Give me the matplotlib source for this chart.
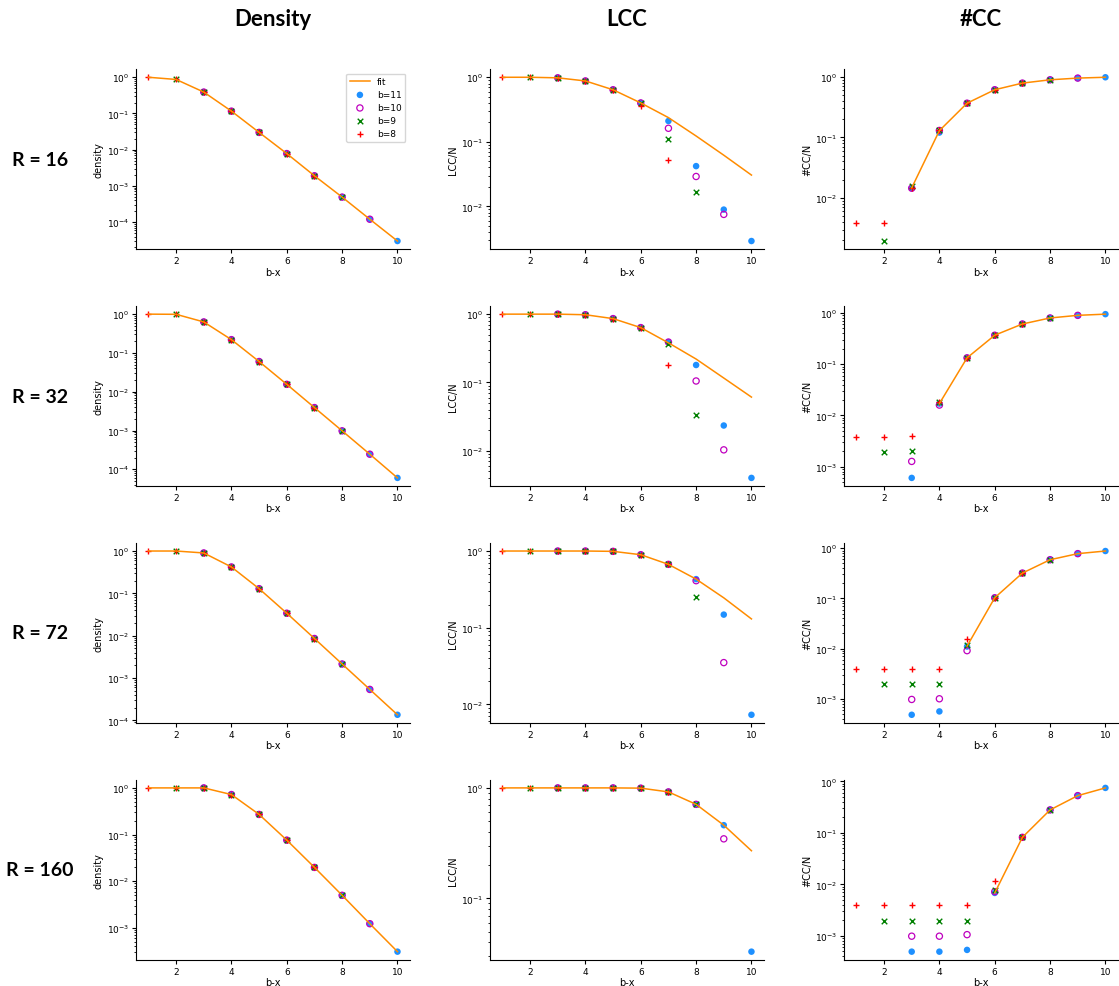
import numpy as np
import matplotlib
matplotlib.use("Agg")
import matplotlib.pyplot as plt

# ---------------- data ----------------
x_all = [1, 2, 3, 4, 5, 6, 7, 8, 9, 10]
R_values = [16, 32, 72, 160]
b_values = [11, 10, 9, 8]
# x-range covered by each b series
x_b11 = [3, 4, 5, 6, 7, 8, 9, 10]
x_b10 = [3, 4, 5, 6, 7, 8, 9]
x_b9 = [2, 3, 4, 5, 6, 7, 8]
x_b8 = [1, 2, 3, 4, 5, 6, 7]

# density (x = 1..10); all series lie on these values
density_R16 = [1.0, 0.87, 0.39, 0.116, 0.030, 0.0078, 0.0019, 0.00049, 0.00012, 3.0e-5]
density_R32 = [1.0, 0.99, 0.63, 0.22, 0.060, 0.0155, 0.0039, 0.00098, 0.000245, 6.0e-5]
density_R72 = [1.0, 1.0, 0.90, 0.42, 0.129, 0.034, 0.0086, 0.00215, 0.00054, 0.000136]
density_R160 = [1.0, 1.0, 1.0, 0.72, 0.27, 0.076, 0.0198, 0.0050, 0.00123, 0.00031]

# LCC/N fits (x = 1..10)
lcc_fit_R16 = [1.0, 1.0, 0.98, 0.877, 0.64, 0.40, 0.237, 0.123, 0.062, 0.0305]
lcc_fit_R32 = [1.0, 1.0, 1.0, 0.98, 0.86, 0.635, 0.38, 0.22, 0.116, 0.061]
lcc_fit_R72 = [1.0, 1.0, 1.0, 1.0, 0.99, 0.895, 0.67, 0.43, 0.245, 0.13]
lcc_fit_R160 = [1.0, 1.0, 1.0, 1.0, 1.0, 0.995, 0.92, 0.71, 0.46, 0.27]

# LCC/N measured
lcc_R16_b11 = [0.98, 0.877, 0.64, 0.40, 0.21, 0.042, 0.0089, 0.0029]
lcc_R16_b10 = [0.98, 0.877, 0.64, 0.40, 0.162, 0.029, 0.0075]
lcc_R16_b9 = [1.0, 0.98, 0.877, 0.64, 0.40, 0.111, 0.0168]
lcc_R16_b8 = [1.0, 1.0, 0.98, 0.877, 0.64, 0.36, 0.053]

lcc_R32_b11 = [1.0, 0.98, 0.86, 0.635, 0.39, 0.18, 0.0234, 0.0040]
lcc_R32_b10 = [1.0, 0.98, 0.86, 0.635, 0.39, 0.105, 0.0103]
lcc_R32_b9 = [1.0, 1.0, 0.98, 0.86, 0.635, 0.36, 0.0336]
lcc_R32_b8 = [1.0, 1.0, 1.0, 0.98, 0.86, 0.635, 0.182]

lcc_R72_b11 = [1.0, 1.0, 0.99, 0.895, 0.67, 0.43, 0.148, 0.0073]
lcc_R72_b10 = [1.0, 1.0, 0.99, 0.895, 0.67, 0.41, 0.035]
lcc_R72_b9 = [1.0, 1.0, 1.0, 0.99, 0.895, 0.67, 0.248]
lcc_R72_b8 = [1.0, 1.0, 1.0, 1.0, 0.99, 0.895, 0.67]

lcc_R160_b11 = [1.0, 1.0, 1.0, 0.995, 0.92, 0.71, 0.46, 0.033]
lcc_R160_b10 = [1.0, 1.0, 1.0, 0.995, 0.92, 0.71, 0.346]
lcc_R160_b9 = [1.0, 1.0, 1.0, 1.0, 0.995, 0.92, 0.71]
lcc_R160_b8 = [1.0, 1.0, 1.0, 1.0, 1.0, 0.995, 0.92]

# #CC/N fits (x = 1..10, nan where not drawn)
nan = float("nan")
cc_fit_R16 = [nan, nan, 0.0147, 0.129, 0.366, 0.61, 0.785, 0.89, 0.95, 0.98]
cc_fit_R32 = [nan, nan, nan, 0.017, 0.133, 0.368, 0.61, 0.80, 0.90, 0.95]
cc_fit_R72 = [nan, nan, nan, nan, 0.0112, 0.103, 0.32, 0.59, 0.78, 0.88]
cc_fit_R160 = [nan, nan, nan, nan, nan, 0.0068, 0.082, 0.28, 0.53, 0.75]

# #CC/N measured
cc_R16_b11 = [0.0145, 0.12, 0.366, 0.61, 0.785, 0.89, 0.95, 0.98]
cc_R16_b10 = [0.0145, 0.13, 0.366, 0.61, 0.785, 0.89, 0.95]
cc_R16_b9 = [0.00195, 0.016, 0.13, 0.366, 0.61, 0.785, 0.89]
cc_R16_b8 = [0.0039, 0.0039, 0.0145, 0.13, 0.366, 0.61, 0.785]

cc_R32_b11 = [0.0006, 0.017, 0.133, 0.368, 0.61, 0.80, 0.90, 0.95]
cc_R32_b10 = [0.00126, 0.0159, 0.133, 0.368, 0.61, 0.80, 0.90]
cc_R32_b9 = [0.0019, 0.0020, 0.018, 0.133, 0.368, 0.61, 0.80]
cc_R32_b8 = [0.0038, 0.0038, 0.0040, 0.0186, 0.133, 0.368, 0.62]

cc_R72_b11 = [0.00048, 0.00056, 0.011, 0.103, 0.32, 0.59, 0.78, 0.88]
cc_R72_b10 = [0.00097, 0.0010, 0.0091, 0.103, 0.32, 0.59, 0.78]
cc_R72_b9 = [0.00195, 0.00195, 0.0020, 0.012, 0.103, 0.32, 0.59]
cc_R72_b8 = [0.0039, 0.0039, 0.0039, 0.0039, 0.0155, 0.104, 0.32]

cc_R160_b11 = [0.00049, 0.00049, 0.00053, 0.0068, 0.082, 0.28, 0.53, 0.75]
cc_R160_b10 = [0.00098, 0.00098, 0.00105, 0.0072, 0.082, 0.28, 0.53]
cc_R160_b9 = [0.00195, 0.00195, 0.00195, 0.00195, 0.0079, 0.082, 0.28]
cc_R160_b8 = [0.0039, 0.0039, 0.0039, 0.0039, 0.0039, 0.0118, 0.082]

col_titles = ["Density", "LCC", "#CC"]
y_labels = ["density", "LCC/N", "#CC/N"]
x_label = "b-x"

# ---------------- assemble ----------------
xs_by_b = {11: x_b11, 10: x_b10, 9: x_b9, 8: x_b8}
density = {16: density_R16, 32: density_R32, 72: density_R72, 160: density_R160}
lcc_fit = {16: lcc_fit_R16, 32: lcc_fit_R32, 72: lcc_fit_R72, 160: lcc_fit_R160}
cc_fit = {16: cc_fit_R16, 32: cc_fit_R32, 72: cc_fit_R72, 160: cc_fit_R160}
lcc = {
    16: {11: lcc_R16_b11, 10: lcc_R16_b10, 9: lcc_R16_b9, 8: lcc_R16_b8},
    32: {11: lcc_R32_b11, 10: lcc_R32_b10, 9: lcc_R32_b9, 8: lcc_R32_b8},
    72: {11: lcc_R72_b11, 10: lcc_R72_b10, 9: lcc_R72_b9, 8: lcc_R72_b8},
    160: {11: lcc_R160_b11, 10: lcc_R160_b10, 9: lcc_R160_b9, 8: lcc_R160_b8},
}
cc = {
    16: {11: cc_R16_b11, 10: cc_R16_b10, 9: cc_R16_b9, 8: cc_R16_b8},
    32: {11: cc_R32_b11, 10: cc_R32_b10, 9: cc_R32_b9, 8: cc_R32_b8},
    72: {11: cc_R72_b11, 10: cc_R72_b10, 9: cc_R72_b9, 8: cc_R72_b8},
    160: {11: cc_R160_b11, 10: cc_R160_b10, 9: cc_R160_b9, 8: cc_R160_b8},
}

styles = {
    11: dict(marker="o", facecolors="dodgerblue", edgecolors="none", s=22),
    10: dict(marker="o", facecolors="none", edgecolors="m", s=20, linewidths=0.9),
    9: dict(marker="x", c="g", s=16, linewidths=1.0),
    8: dict(marker="+", c="r", s=20, linewidths=1.0),
}

fig = plt.figure(figsize=(11.19, 9.87), dpi=100)
gs = fig.add_gridspec(4, 3, left=0.1215, right=0.999, top=0.929, bottom=0.0265,
                      wspace=0.292, hspace=0.315)

title_font = dict(family=["Lato", "DejaVu Sans"], fontweight="bold")

for i, R in enumerate(R_values):
    for j in range(3):
        ax = fig.add_subplot(gs[i, j])
        if j == 0:
            ax.plot(x_all, density[R], color="darkorange", lw=1.1, label="fit")
            for b in b_values:
                xs = xs_by_b[b]
                ys = [density[R][x - 1] for x in xs]
                ax.scatter(xs, ys, label=f"b={b}", **styles[b])
        elif j == 1:
            ax.plot(x_all, lcc_fit[R], color="darkorange", lw=1.1, label="fit")
            for b in b_values:
                ax.scatter(xs_by_b[b], lcc[R][b], label=f"b={b}", **styles[b])
        else:
            ax.plot(x_all, cc_fit[R], color="darkorange", lw=1.1, label="fit")
            for b in b_values:
                ax.scatter(xs_by_b[b], cc[R][b], label=f"b={b}", **styles[b])
        ax.set_yscale("log")
        ax.set_xticks([2, 4, 6, 8, 10])
        ax.tick_params(labelsize=6.5, length=3, width=0.8, pad=2)
        ax.tick_params(which="minor", length=1.8, width=0.6)
        ax.spines["top"].set_visible(False)
        ax.spines["right"].set_visible(False)
        ax.set_xlabel(x_label, fontsize=7, labelpad=1)
        ax.set_ylabel(y_labels[j], fontsize=7, labelpad=2)
        if i == 0 and j == 0:
            ax.legend(loc="upper right", fontsize=6.5, handlelength=2.2,
                      borderpad=0.4, labelspacing=0.45)
        if i == 0:
            pos = ax.get_position()
            fig.text((pos.x0 + pos.x1) / 2, 1 - 20 / 987, col_titles[j],
                     ha="center", va="center", fontsize=16, **title_font)
        if j == 0:
            pos = ax.get_position()
            fig.text(40 / 1119, (pos.y0 + pos.y1) / 2, f"R = {R}",
                     ha="center", va="center", fontsize=14, **title_font)

fig.savefig("out.png", dpi=100)
